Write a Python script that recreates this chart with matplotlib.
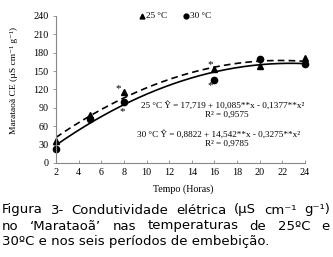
import numpy as np
import matplotlib
matplotlib.use("Agg")
import matplotlib.pyplot as plt

# data
horas = [2, 5, 8, 16, 20, 24]
ce_25 = [36, 79, 115, 153, 158, 172]
ce_30 = [23, 72, 99, 136, 169, 161]

xticks = [2, 4, 6, 8, 10, 12, 14, 16, 18, 20, 22, 24]
yticks = [0, 30, 60, 90, 120, 150, 180, 210, 240]

eq_25 = "25 °C Ŷ = 17,719 + 10,085**x - 0,1377**x²"
eq_30 = "30 °C Ŷ = 0,8822 + 14,542**x - 0,3275**x²"
r2_25 = "R² = 0,9575"
r2_30 = "R² = 0,9785"

cap = ["Figura 3- Condutividade elétrica (µS cm⁻¹ g⁻¹)",
       "no \u2018Marataoã\u2019 nas temperaturas de 25ºC e",
       "30ºC e nos seis períodos de embebição."]

fig = plt.figure(figsize=(3.33, 2.57), dpi=100)
ax = fig.add_axes([0.168, 0.366, 0.748, 0.572])
serif = ["Liberation Serif", "DejaVu Serif"]

# quadratic trendlines (least squares, like the spreadsheet trendline)
xs = np.linspace(2, 24, 200)
p25 = np.polyfit(horas, ce_25, 2)
p30 = np.polyfit(horas, ce_30, 2)
ax.plot(xs, np.polyval(p25, xs), color="black", lw=1.2, ls=(0, (4, 2.5)))
ax.plot(xs, np.polyval(p30, xs), color="black", lw=1.2)
ax.plot(horas, ce_25, "^", color="black", ms=4.5, clip_on=False)
ax.plot(horas, ce_30, "o", color="black", ms=4.5, clip_on=False)

# asterisks (significance marks)
for x, y in [(7.5, 122), (7.9, 84), (15.6, 160), (15.6, 126)]:
    ax.text(x, y, "*", fontsize=8, family=serif, ha="center", va="center")

ax.set_xlim(2, 24)
ax.set_ylim(0, 240)
ax.set_xticks(xticks)
ax.set_yticks(yticks)
for s in ["top", "right"]:
    ax.spines[s].set_visible(False)
for s in ["left", "bottom"]:
    ax.spines[s].set_color("#888888")
    ax.spines[s].set_linewidth(0.8)
ax.tick_params(axis="y", direction="out", length=2.5, width=0.6, color="#888888", labelsize=7.3, pad=3)
ax.tick_params(axis="x", direction="in", length=2.5, width=0.6, color="#888888", labelsize=7.3, pad=4)
for lab in ax.get_xticklabels() + ax.get_yticklabels():
    lab.set_family(serif)

ax.set_xlabel("Tempo (Horas)", fontsize=7.2, family=serif, va="center")
ax.xaxis.set_label_coords(0.51, -0.178)
ax.set_ylabel("Marataoã CE (µS cm⁻¹ g⁻¹)", fontsize=6.8, family=serif, va="center")
ax.yaxis.set_label_coords(-0.168, 0.558)

# legend
ax.plot([9.6], [240], "^", color="black", ms=3.5, clip_on=False)
ax.text(9.95, 240, "25 °C", fontsize=6.6, family=serif, va="center")
ax.plot([13.5], [240], "o", color="black", ms=3.5, clip_on=False)
ax.text(13.85, 240, "30 °C", fontsize=6.6, family=serif, va="center")

# equations
ax.text(9.5, 94, eq_25, fontsize=6.6, family=serif, va="center")
ax.text(17.1, 79, r2_25, fontsize=6.6, family=serif, va="center", ha="center")
ax.text(9.15, 46, eq_30, fontsize=6.6, family=serif, va="center")
ax.text(17.1, 31, r2_30, fontsize=6.6, family=serif, va="center", ha="center")

# caption, first two lines justified
W = 333.0
left, right = 2.0, 330.0
ys = [210, 226, 242]
fs = 9.5
r = fig.canvas.get_renderer()
for i, line in enumerate(cap):
    yf = 1 - ys[i] / 257.0
    words = line.split(" ")
    if i == 2:
        fig.text(left / W, yf, line, fontsize=fs, family="DejaVu Sans", va="center")
        continue
    widths = []
    for w in words:
        t = fig.text(0, 0, w, fontsize=fs, family="DejaVu Sans")
        widths.append(t.get_window_extent(r).width)
        t.remove()
    gap = (right - left - sum(widths)) / (len(words) - 1)
    x = left
    for w, wd in zip(words, widths):
        fig.text(x / W, yf, w, fontsize=fs, family="DejaVu Sans", va="center")
        x += wd + gap

fig.savefig("out.png", dpi=100)
